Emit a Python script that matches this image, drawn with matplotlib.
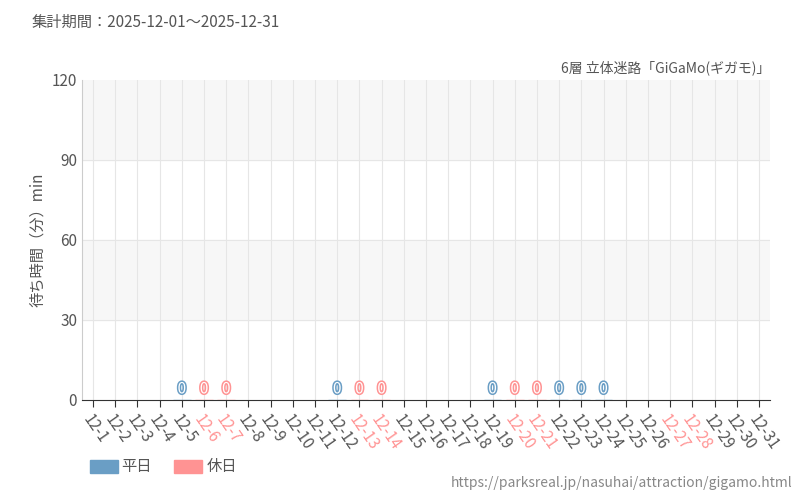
import matplotlib
matplotlib.use("Agg")
import matplotlib.pyplot as plt
import matplotlib.patheffects as pe
import numpy as np

plt.rcParams['font.family'] = ['Noto Sans CJK JP', 'DejaVu Sans']

days = [f"12-{d}" for d in range(1, 32)]
holidays = [6, 7, 13, 14, 20, 21, 27, 28]
data_days = [5, 6, 7, 12, 13, 14, 19, 20, 21, 22, 23, 24]
values = [0] * len(data_days)

BLUE = '#6a9ec5'
RED = '#ff9393'
TXT = '#555555'

fig = plt.figure(figsize=(8, 5), dpi=100)
ax = fig.add_axes([0.1025, 0.2, 0.86, 0.64])
x = np.arange(len(days))
ax.set_xlim(-0.5, len(days) - 0.5)
ax.set_ylim(0, 120)
ax.axhspan(90, 120, color='#f7f7f7', zorder=0)
ax.axhspan(30, 60, color='#f7f7f7', zorder=0)
for yy in [30, 60, 90]:
    ax.axhline(yy, color='#e6e6e6', lw=0.8, zorder=1)
for xi in x:
    ax.axvline(xi, color='#e6e6e6', lw=0.8, zorder=1)

for d, v in zip(data_days, values):
    c = RED if d in holidays else BLUE
    ax.bar(d - 1, v, width=0.8, color=c, edgecolor=c, lw=1, zorder=3)
    ax.text(d - 1, v + 1, str(v), ha='center', va='bottom', fontsize=11,
            color='white', zorder=4,
            path_effects=[pe.withStroke(linewidth=2.2, foreground=c)])

ax.set_yticks([0, 30, 60, 90, 120])
ax.tick_params(axis='y', length=0, labelsize=11, colors=TXT)
ax.set_xticks(x)
ax.set_xticklabels(days, rotation=-55, ha='left', rotation_mode='anchor', fontsize=11)
for lbl, d in zip(ax.get_xticklabels(), range(1, 32)):
    lbl.set_color(RED if d in holidays else TXT)
ax.tick_params(axis='x', length=5, color='#333333')
for s in ['top', 'right']:
    ax.spines[s].set_visible(False)
ax.spines['left'].set_color('#cccccc')
ax.spines['bottom'].set_color('#333333')
ax.set_ylabel('待ち時間（分）min', fontsize=11, color=TXT)

fig.text(0.04, 0.955, '集計期間：2025-12-01〜2025-12-31', fontsize=11, color=TXT, va='center')
fig.text(0.963, 0.865, '6層 立体迷路「GiGaMo(ギガモ)」', fontsize=10, color=TXT, ha='right', va='center')
fig.text(0.99, 0.035, 'https://parksreal.jp/nasuhai/attraction/gigamo.html', fontsize=10, color='#888888', ha='right', va='center')

from matplotlib.patches import Rectangle
fig.patches.append(Rectangle((0.112, 0.055), 0.035, 0.026, transform=fig.transFigure, color=BLUE))
fig.text(0.152, 0.067, '平日', fontsize=11, color=TXT, va='center')
fig.patches.append(Rectangle((0.218, 0.055), 0.035, 0.026, transform=fig.transFigure, color=RED))
fig.text(0.258, 0.067, '休日', fontsize=11, color=TXT, va='center')

fig.savefig('out.png')
